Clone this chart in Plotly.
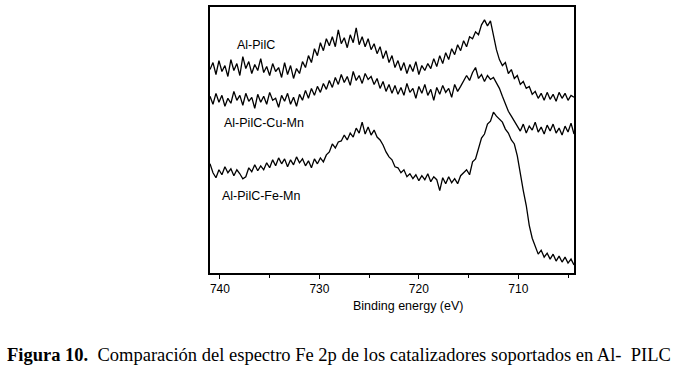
import numpy as np
import plotly.graph_objects as go

# Binding energy grid (eV), 741.0 -> 704.4
energy = np.linspace(741.0, 704.4, 123)

al_pilc = [205, 212, 200, 214, 203, 209, 198, 215, 204, 211,
           199, 218, 206, 213, 201, 210, 204, 216, 202, 208,
           199, 211, 203, 207, 197, 212, 200, 209, 196, 206,
           201, 213, 207, 219, 212, 226, 219, 232, 224, 236,
           229, 238, 228, 245, 231, 237, 227, 240, 232, 247,
           230, 238, 228, 236, 225, 231, 221, 228, 216, 224,
           212, 219, 207, 214, 204, 212, 201, 210, 203, 213,
           200, 209, 204, 211, 206, 216, 208, 219, 211, 222,
           215, 226, 220, 230, 224, 234, 228, 238, 236, 243,
           240, 250, 255, 249, 254, 238, 225, 215, 209, 212,
           201, 205, 196, 199, 190, 193, 186, 188, 180, 183,
           176, 181, 174, 182, 175, 180, 173, 182, 176, 181,
           174, 179, 177]

al_pilc_cu_mn = [178, 170, 181, 172, 179, 168, 176, 171, 183, 174,
                 179, 169, 181, 173, 177, 166, 180, 172, 178, 170,
                 182, 174, 176, 167, 179, 173, 181, 170, 177, 168,
                 180, 174, 184, 176, 186, 179, 188, 182, 191, 185,
                 194, 187, 197, 190, 200, 192, 198, 189, 203, 194,
                 199, 191, 201, 195, 198, 190, 196, 186, 193, 183,
                 190, 181, 189, 180, 187, 179, 191, 182, 186, 176,
                 188, 181, 190, 179, 185, 174, 187, 180, 189, 182,
                 186, 177, 190, 183, 188, 193, 199, 194, 202, 207,
                 196, 200, 193, 199, 195, 197, 191, 186, 178, 170,
                 163, 158, 153, 149, 143, 150, 141, 148, 144, 152,
                 142, 147, 140, 149, 143, 150, 141, 146, 139, 148,
                 142, 151, 140]

al_pilc_fe_mn = [110, 101, 96, 104, 99, 107, 101, 105, 98, 104,
                 100, 95, 97, 106, 102, 109, 103, 108, 104, 111,
                 106, 114, 108, 116, 110, 115, 107, 114, 109, 117,
                 111, 115, 108, 113, 106, 115, 110, 116, 112, 119,
                 122, 130, 126, 132, 133, 139, 134, 141, 137, 146,
                 141, 152, 140, 147, 139, 144, 137, 134, 129, 122,
                 117, 114, 107, 106, 101, 104, 97, 100, 95, 99,
                 93, 98, 94, 100, 92, 97, 94, 83, 96, 90,
                 97, 91, 95, 90, 98, 101, 104, 99, 112, 115,
                 125, 136, 140, 150, 153, 162, 158, 155, 152, 145,
                 141, 134, 130, 118, 98, 83, 68, 48, 35, 27,
                 19, 23, 16, 20, 14, 19, 12, 17, 11, 16,
                 10, 14, 8]

series_names = ["Al-PilC", "Al-PilC-Cu-Mn", "Al-PilC-Fe-Mn"]
label_x = [738.5, 739.8, 740.0]
label_y = [230, 151, 78]
x_ticks = [740, 730, 720, 710]

fig = go.Figure()
for name, vals in zip(series_names, [al_pilc, al_pilc_cu_mn, al_pilc_fe_mn]):
    fig.add_trace(go.Scatter(x=energy, y=vals, mode="lines", name=name,
                             line=dict(color="black", width=1.3),
                             showlegend=False))

for name, xv, yv in zip(series_names, label_x, label_y):
    fig.add_annotation(x=xv, y=yv, xref="x", yref="y", text=name,
                       showarrow=False, xanchor="left", yanchor="middle",
                       font=dict(family="Liberation Sans, Arial", size=12.5, color="black"))

fig.add_annotation(x=(408 - 210) / 364, y=(273 - 306) / 268, xref="paper", yref="paper",
                   text="Binding energy (eV)", showarrow=False, yanchor="middle",
                   font=dict(family="Liberation Sans, Arial", size=12.5, color="black"))

fig.add_annotation(x=(5 - 210) / 364, y=(273 - 356) / 268, xref="paper", yref="paper",
                   xanchor="left", yanchor="middle", showarrow=False,
                   text="<b>Figura 10.</b>  Comparación del espectro Fe 2p de los catalizadores soportados en Al-  PILC",
                   font=dict(family="Liberation Serif, Times New Roman", size=18.5, color="black"))

fig.update_layout(
    width=680, height=368,
    margin=dict(l=210, r=106, t=5, b=95),
    paper_bgcolor="white", plot_bgcolor="white",
    xaxis=dict(range=[741.0, 704.4], tickvals=x_ticks, ticktext=[str(t) for t in x_ticks],
               ticks="outside", ticklen=4, tickwidth=1, tickcolor="black",
               minor=dict(tickvals=[735, 725, 715, 705], ticks="outside", ticklen=3, tickcolor="black"),
               showline=True, linecolor="black", linewidth=1.5, mirror=True,
               showgrid=False, zeroline=False,
               tickfont=dict(family="Liberation Sans, Arial", size=12, color="black")),
    yaxis=dict(range=[0, 268], showticklabels=False, ticks="",
               showline=True, linecolor="black", linewidth=1.5, mirror=True,
               showgrid=False, zeroline=False),
)

fig.write_html("out.html", config={"displayModeBar": False},
               post_script="document.body.style.margin='0';")
